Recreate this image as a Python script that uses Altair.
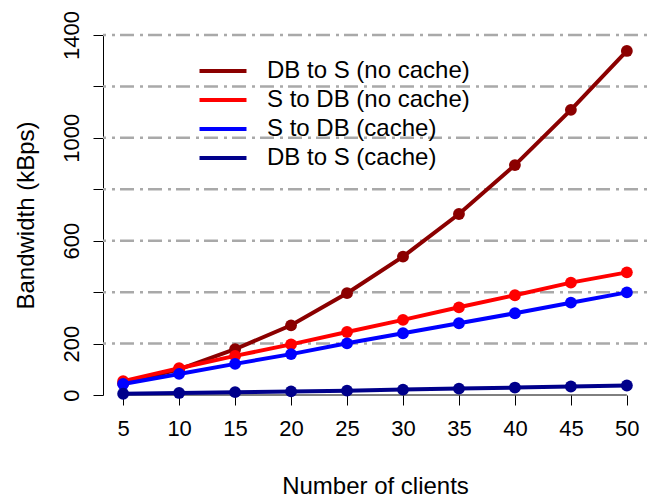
import altair as alt
import pandas as pd

# Measured bandwidth per number of clients (kBps)
clients = [5, 10, 15, 20, 25, 30, 35, 40, 45, 50]
db_to_s_nocache = [45, 100, 178, 271, 396, 538, 704, 894, 1109, 1338]
s_to_db_nocache = [54, 104, 152, 197, 245, 292, 341, 388, 437, 477]
s_to_db_cache = [43, 82, 121, 159, 201, 240, 279, 318, 359, 399]
db_to_s_cache = [5, 8, 11, 14, 17, 21, 25, 29, 33, 37]

series_names = [
    "DB to S (no cache)",
    "S to DB (no cache)",
    "S to DB (cache)",
    "DB to S (cache)",
]
series_values = [db_to_s_nocache, s_to_db_nocache, s_to_db_cache, db_to_s_cache]
series_colors = ["#8B0000", "#FF0000", "#0000FF", "#00008B"]

grid_levels = [200, 400, 600, 800, 1000, 1200, 1400]
y_ticks = [0, 200, 400, 600, 800, 1000, 1200, 1400]

rows = []
for name, vals in zip(series_names, series_values):
    for c, v in zip(clients, vals):
        rows.append({"clients": c, "bandwidth": v, "series": name})
df = pd.DataFrame(rows)

FONT = "Liberation Sans"

x_scale = alt.Scale(domain=[3.2, 51.8], nice=False, zero=False)
y_scale = alt.Scale(domain=[0, 1400], nice=False, zero=False)
color_scale = alt.Scale(domain=series_names, range=series_colors)

x_axis = alt.Axis(
    values=clients,
    domain=False,
    grid=False,
    tickSize=10,
    tickColor="black",
    tickWidth=1,
    labelFontSize=22,
    labelFont=FONT,
    labelColor="black",
    labelPadding=30,
    labelBaseline="alphabetic",
    title="Number of clients",
    titleFont=FONT,
    titleFontSize=24,
    titleFontWeight="normal",
    titleColor="black",
    titleBaseline="alphabetic",
    titleY=98,
)

y_axis = alt.Axis(
    values=y_ticks,
    format="d",
    domain=True,
    domainColor="black",
    domainWidth=1,
    grid=False,
    tickSize=10,
    tickColor="black",
    tickWidth=1,
    labelFontSize=22,
    labelFont=FONT,
    labelColor="black",
    labelAngle=270,
    labelAlign="center",
    labelBaseline="alphabetic",
    labelPadding=15,
    labelExpr="(datum.value % 400 == 200 || datum.value == 0) ? datum.label : ''",
    title="Bandwidth (kBps)",
    titleFont=FONT,
    titleFontSize=24,
    titleFontWeight="normal",
    titleColor="black",
    titleAngle=270,
    titleAlign="center",
    titleBaseline="alphabetic",
    titleX=-70,
    titleY=180,
)

# Dot-dash horizontal reference lines
grid = (
    alt.Chart(pd.DataFrame({"level": grid_levels}))
    .mark_rule(color="#A9A9A9", strokeWidth=2.5, strokeDash=[3, 6, 14, 5])
    .encode(y=alt.Y("level:Q", scale=y_scale, axis=y_axis))
)

# Bottom axis line running from the first to the last client count
x_line = (
    alt.Chart(pd.DataFrame({"clients": clients}))
    .mark_rule(color="black", strokeWidth=1)
    .encode(
        x=alt.X("min(clients):Q", scale=x_scale, axis=x_axis),
        x2="max(clients):Q",
        y=alt.datum(0),
    )
)

# Legend keys are short horizontal strokes (path is scaled by sqrt(size)/2)
legend = alt.Legend(
    title=None,
    orient="none",
    legendX=108,
    legendY=24,
    symbolType="M-4,0H4",
    symbolSize=138,
    symbolStrokeWidth=4,
    symbolFillColor="transparent",
    labelFont=FONT,
    labelFontSize=24,
    labelColor="black",
    labelLimit=0,
    labelOffset=32,
    rowPadding=5,
    padding=0,
)

layers = [grid, x_line]
for name in series_names:
    base = alt.Chart(df).transform_filter(alt.datum.series == name)
    enc = dict(
        x=alt.X("clients:Q", scale=x_scale, axis=x_axis),
        y=alt.Y("bandwidth:Q", scale=y_scale, axis=y_axis),
        color=alt.Color("series:N", scale=color_scale, sort=series_names, legend=legend),
    )
    layers.append(base.mark_line(strokeWidth=4).encode(**enc))
    layers.append(base.mark_circle(size=140, opacity=1).encode(**enc))

chart = (
    alt.layer(*layers)
    .properties(
        width=544,
        height=360,
        autosize=alt.AutoSizeParams(type="none"),
        padding={"left": 103, "top": 35, "right": 12, "bottom": 103},
        background="white",
    )
    .configure_view(stroke="transparent")
)

chart.save("out.html", embed_options={"renderer": "svg", "actions": False})
